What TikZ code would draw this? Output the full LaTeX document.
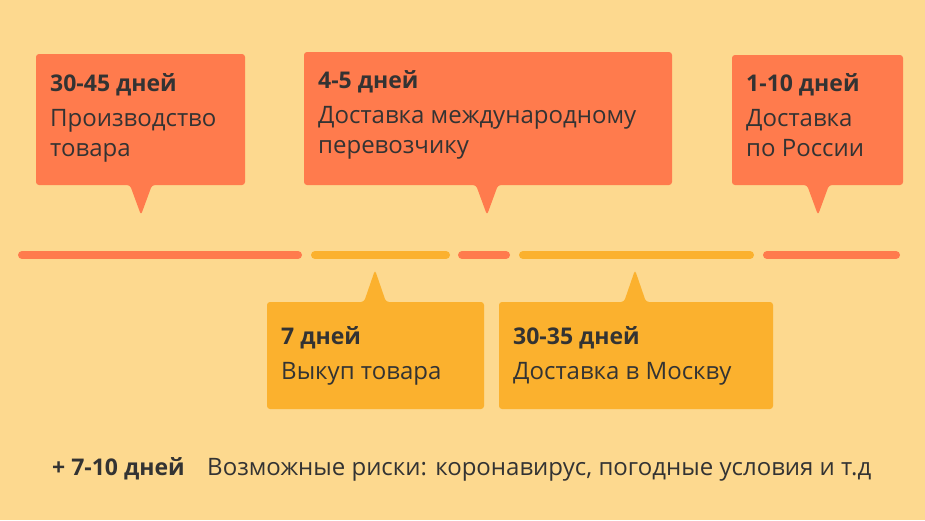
\documentclass[tikz,border=0pt]{standalone}
\usepackage{fontspec}
\setmainfont{Open Sans}
\definecolor{bg}{HTML}{FDD98F}
\definecolor{red}{HTML}{FF7B4D}
\definecolor{yel}{HTML}{FBB12E}
\definecolor{txt}{HTML}{333333}
\tikzset{
  lbl/.style={anchor=base west,inner sep=0pt,text=txt,font=\fontsize{24}{26}\selectfont},
  hd/.style={lbl,font=\fontsize{23}{26}\selectfont\bfseries},
  seg/.style={line width=8pt,line cap=round},
}
\begin{document}
\begin{tikzpicture}[x=1pt,y=-1pt]
\fill[bg] (0,0) rectangle (925,520);
\useasboundingbox (0,0) rectangle (925,520);
% upper boxes
\fill[red,rounded corners=3pt] (36,54) -- (245,54) -- (245,185) -- (152,185) -- (141,215) -- (130,185) -- (36,185) -- cycle;
\fill[red,rounded corners=3pt] (304,52) -- (672,52) -- (672,185) -- (498,185) -- (487,215) -- (476,185) -- (304,185) -- cycle;
\fill[red,rounded corners=3pt] (732,55) -- (903,55) -- (903,185) -- (829,185) -- (818,215) -- (807,185) -- (732,185) -- cycle;
% lower boxes
\fill[yel,rounded corners=3pt] (267,302) -- (364,302) -- (375,270) -- (386,302) -- (484,302) -- (484,409) -- (267,409) -- cycle;
\fill[yel,rounded corners=3pt] (499,302) -- (624,302) -- (635,270) -- (646,302) -- (773,302) -- (773,409) -- (499,409) -- cycle;
% timeline
\coordinate (a0) at (22,255); \coordinate (a1) at (298,255);
\coordinate (b0) at (315,255); \coordinate (b1) at (446,255);
\coordinate (c0) at (462,255); \coordinate (c1) at (506,255);
\coordinate (d0) at (523,255); \coordinate (d1) at (750,255);
\coordinate (e0) at (767,255); \coordinate (e1) at (896,255);
\draw[seg,red] (a0) -- (a1);
\draw[seg,yel] (b0) -- (b1);
\draw[seg,red] (c0) -- (c1);
\draw[seg,yel] (d0) -- (d1);
\draw[seg,red] (e0) -- (e1);
% texts
\node[hd] (t1) at (50,91) {30-45 дней};
\node[lbl] (t1a) at (50,126) {Производство};
\node[lbl] (t1b) at (50,156) {товара};
\node[hd] (t2) at (318,88) {4-5 дней};
\node[lbl] (t2a) at (318,123) {Доставка международному};
\node[lbl] (t2b) at (318,153) {перевозчику};
\node[hd] (t3) at (746,91) {1-10 дней};
\node[lbl] (t3a) at (746,126) {Доставка};
\node[lbl] (t3b) at (746,156) {по России};
\node[hd] (t4) at (281,344) {7 дней};
\node[lbl] (t4a) at (281,379) {Выкуп товара};
\node[hd] (t5) at (513,344) {30-35 дней};
\node[lbl] (t5a) at (513,379) {Доставка в Москву};
\node[hd] (t6) at (52,475) {+ 7-10 дней};
\node[lbl] (t6a) at (207,475) {Возможные риски: коронавирус, погодные условия и т.д};
\end{tikzpicture}
\end{document}
